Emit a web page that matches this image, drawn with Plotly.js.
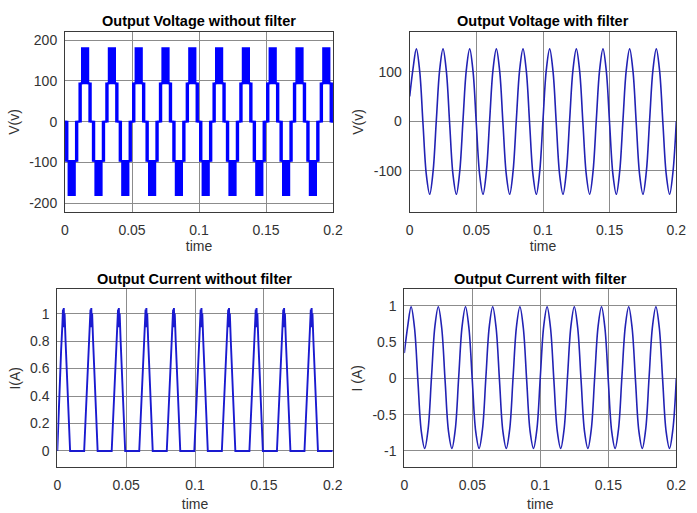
<!DOCTYPE html>
<html><head><meta charset="utf-8">
<script src="https://cdn.plot.ly/plotly-3.0.1.min.js"></script>
<style>html,body{margin:0;padding:0;background:#fff}#chart{width:697px;height:513px}</style>
</head><body><div id="chart"></div>
<script>
// ---- Output voltage without filter: switching bands (segment start times, upper / lower envelope) ----
const vUnfTime = [0,
 0.0007,0.0019,0.0026,0.0074,0.0081,0.0093,0.0107,0.0119,0.0126,0.0174,0.0181,0.0193,
 0.0207,0.0219,0.0226,0.0274,0.0281,0.0293,0.0307,0.0319,0.0326,0.0374,0.0381,0.0393,
 0.0407,0.0419,0.0426,0.0474,0.0481,0.0493,0.0507,0.0519,0.0526,0.0574,0.0581,0.0593,
 0.0607,0.0619,0.0626,0.0674,0.0681,0.0693,0.0707,0.0719,0.0726,0.0774,0.0781,0.0793,
 0.0807,0.0819,0.0826,0.0874,0.0881,0.0893,0.0907,0.0919,0.0926,0.0974,0.0981,0.0993,
 0.1007,0.1019,0.1026,0.1074,0.1081,0.1093,0.1107,0.1119,0.1126,0.1174,0.1181,0.1193,
 0.1207,0.1219,0.1226,0.1274,0.1281,0.1293,0.1307,0.1319,0.1326,0.1374,0.1381,0.1393,
 0.1407,0.1419,0.1426,0.1474,0.1481,0.1493,0.1507,0.1519,0.1526,0.1574,0.1581,0.1593,
 0.1607,0.1619,0.1626,0.1674,0.1681,0.1693,0.1707,0.1719,0.1726,0.1774,0.1781,0.1793,
 0.1807,0.1819,0.1826,0.1874,0.1881,0.1893,0.1907,0.1919,0.1926,0.1974,0.1981,0.1993,
 0.2];
const vUnfUpper = [0,
 0,-96,-96,-96,0,0,94,94,180,94,94,0,
 0,-96,-96,-96,0,0,94,94,180,94,94,0,
 0,-96,-96,-96,0,0,94,94,180,94,94,0,
 0,-96,-96,-96,0,0,94,94,180,94,94,0,
 0,-96,-96,-96,0,0,94,94,180,94,94,0,
 0,-96,-96,-96,0,0,94,94,180,94,94,0,
 0,-96,-96,-96,0,0,94,94,180,94,94,0,
 0,-96,-96,-96,0,0,94,94,180,94,94,0,
 0,-96,-96,-96,0,0,94,94,180,94,94,0,
 0,-96,-96,-96,0,0,94,94,180,94,94,0,
 0];
const vUnfLower = [0,
 -96,-96,-180,-96,-96,0,0,94,94,94,0,0,
 -96,-96,-180,-96,-96,0,0,94,94,94,0,0,
 -96,-96,-180,-96,-96,0,0,94,94,94,0,0,
 -96,-96,-180,-96,-96,0,0,94,94,94,0,0,
 -96,-96,-180,-96,-96,0,0,94,94,94,0,0,
 -96,-96,-180,-96,-96,0,0,94,94,94,0,0,
 -96,-96,-180,-96,-96,0,0,94,94,94,0,0,
 -96,-96,-180,-96,-96,0,0,94,94,94,0,0,
 -96,-96,-180,-96,-96,0,0,94,94,94,0,0,
 -96,-96,-180,-96,-96,0,0,94,94,94,0,0,
 0];

// ---- Filtered voltage and current (sampled every 2.5 ms) ----
const tSine = [0,0.0025,0.005,0.0075,0.01,0.0125,0.015,0.0175,
 0.02,0.0225,0.025,0.0275,0.03,0.0325,0.035,0.0375,
 0.04,0.0425,0.045,0.0475,0.05,0.0525,0.055,0.0575,
 0.06,0.0625,0.065,0.0675,0.07,0.0725,0.075,0.0775,
 0.08,0.0825,0.085,0.0875,0.09,0.0925,0.095,0.0975,
 0.1,0.1025,0.105,0.1075,0.11,0.1125,0.115,0.1175,
 0.12,0.1225,0.125,0.1275,0.13,0.1325,0.135,0.1375,
 0.14,0.1425,0.145,0.1475,0.15,0.1525,0.155,0.1575,
 0.16,0.1625,0.165,0.1675,0.17,0.1725,0.175,0.1775,
 0.18,0.1825,0.185,0.1875,0.19,0.1925,0.195,0.1975,
 0.2];
const vFilt = [50,106,146,101,-6,-108,-147,-102,
 3,104,146,101,-6,-108,-147,-102,
 3,104,146,101,-6,-108,-147,-102,
 3,104,146,101,-6,-108,-147,-102,
 3,104,146,101,-6,-108,-147,-102,
 3,104,146,101,-6,-108,-147,-102,
 3,104,146,101,-6,-108,-147,-102,
 3,104,146,101,-6,-108,-147,-102,
 3,104,146,101,-6,-108,-147,-102,
 3,104,146,101,-6,-108,-147,-102,
 0];
const iFilt = [0.35,0.72,0.99,0.70,-0.03,-0.73,-0.965,-0.70,
 0.02,0.72,0.99,0.70,-0.03,-0.73,-0.965,-0.70,
 0.02,0.72,0.99,0.70,-0.03,-0.73,-0.965,-0.70,
 0.02,0.72,0.99,0.70,-0.03,-0.73,-0.965,-0.70,
 0.02,0.72,0.99,0.70,-0.03,-0.73,-0.965,-0.70,
 0.02,0.72,0.99,0.70,-0.03,-0.73,-0.965,-0.70,
 0.02,0.72,0.99,0.70,-0.03,-0.73,-0.965,-0.70,
 0.02,0.72,0.99,0.70,-0.03,-0.73,-0.965,-0.70,
 0.02,0.72,0.99,0.70,-0.03,-0.73,-0.965,-0.70,
 0.02,0.72,0.99,0.70,-0.03,-0.73,-0.965,-0.70,
 0.0];

// ---- Output current without filter ----
const tIunf = [0,0.0012,0.0028,0.0037,0.0041,0.0044,0.0047,0.0050,0.0053,0.0060,0.0076,0.0093,
 0.0195,0.0212,0.0228,0.0237,0.0241,0.0244,0.0247,0.0250,0.0253,0.0260,0.0276,0.0293,
 0.0395,0.0412,0.0428,0.0437,0.0441,0.0444,0.0447,0.0450,0.0453,0.0460,0.0476,0.0493,
 0.0595,0.0612,0.0628,0.0637,0.0641,0.0644,0.0647,0.0650,0.0653,0.0660,0.0676,0.0693,
 0.0795,0.0812,0.0828,0.0837,0.0841,0.0844,0.0847,0.0850,0.0853,0.0860,0.0876,0.0893,
 0.0995,0.1012,0.1028,0.1037,0.1041,0.1044,0.1047,0.1050,0.1053,0.1060,0.1076,0.1093,
 0.1195,0.1212,0.1228,0.1237,0.1241,0.1244,0.1247,0.1250,0.1253,0.1260,0.1276,0.1293,
 0.1395,0.1412,0.1428,0.1437,0.1441,0.1444,0.1447,0.1450,0.1453,0.1460,0.1476,0.1493,
 0.1595,0.1612,0.1628,0.1637,0.1641,0.1644,0.1647,0.1650,0.1653,0.1660,0.1676,0.1693,
 0.1795,0.1812,0.1828,0.1837,0.1841,0.1844,0.1847,0.1850,0.1853,0.1860,0.1876,0.1893,
 0.2];
const iUnf = [0,0.38,0.74,0.92,1.03,0.90,1.04,0.92,1.00,0.80,0.42,0,
 0,0.38,0.74,0.92,1.03,0.90,1.04,0.92,1.00,0.80,0.42,0,
 0,0.38,0.74,0.92,1.03,0.90,1.04,0.92,1.00,0.80,0.42,0,
 0,0.38,0.74,0.92,1.03,0.90,1.04,0.92,1.00,0.80,0.42,0,
 0,0.38,0.74,0.92,1.03,0.90,1.04,0.92,1.00,0.80,0.42,0,
 0,0.38,0.74,0.92,1.03,0.90,1.04,0.92,1.00,0.80,0.42,0,
 0,0.38,0.74,0.92,1.03,0.90,1.04,0.92,1.00,0.80,0.42,0,
 0,0.38,0.74,0.92,1.03,0.90,1.04,0.92,1.00,0.80,0.42,0,
 0,0.38,0.74,0.92,1.03,0.90,1.04,0.92,1.00,0.80,0.42,0,
 0,0.38,0.74,0.92,1.03,0.90,1.04,0.92,1.00,0.80,0.42,0,
 0];

// ---- Ticks and text ----
const xTickVals = [0,0.05,0.1,0.15,0.2];
const xTickText = ['0','0.05','0.1','0.15','0.2'];
const vUnfTickVals = [-200,-100,0,100,200];
const vUnfTickText = ['-200','-100','0','100','200'];
const vFiltTickVals = [-100,0,100];
const vFiltTickText = ['-100','0','100'];
const iUnfTickVals = [0,0.2,0.4,0.6,0.8,1];
const iUnfTickText = ['0','0.2','0.4','0.6','0.8','1'];
const iFiltTickVals = [-1,-0.5,0,0.5,1];
const iFiltTickText = ['-1','-0.5','0','0.5','1'];
const panelTitles = ['Output Voltage without filter','Output Voltage with filter',
                     'Output Current without filter','Output Current with filter'];
const yTitles = ['V(v)','V(v)','I(A)','I (A)'];
const xTitle = 'time';

const FONT = 'Liberation Sans, Arial, Helvetica, sans-serif';
const W = 697, H = 513;
const px = (a,b)=>[a/W, b/W];
const py = (top,bottom)=>[1-bottom/H, 1-top/H];

const dom = [
  {x: px(65,333),   y: py(31.7,212.3)},
  {x: px(409.7,676.3), y: py(31.7,212.3)},
  {x: px(57.3,332.7), y: py(289.3,467.3)},
  {x: px(404.3,676.3), y: py(289.3,467.3)}
];
const yRanges = [[-222,220.4],[-183.2,180.5],[-0.119,1.177],[-1.225,1.23]];
const yTicks = [[vUnfTickVals,vUnfTickText],[vFiltTickVals,vFiltTickText],
                [iUnfTickVals,iUnfTickText],[iFiltTickVals,iFiltTickText]];
const xTitleStandoff = [2,2,7,7];

function xa(i){
  return {domain: dom[i].x, anchor: 'y'+(i?i+1:''), range:[0,0.2],
    tickvals:xTickVals, ticktext:xTickText, showline:true, mirror:true,
    linecolor:'#3a3a3a', linewidth:1, showgrid:true, gridcolor:'#8c8c8c', gridwidth:1,
    zeroline:false, ticks:'', ticklabelstandoff:5, tickfont:{family:FONT,size:14,color:'#333'},
    title:{text:xTitle, font:{family:FONT,size:14,color:'#333'}, standoff:xTitleStandoff[i]}, fixedrange:true};
}
function ya(i){
  return {domain: dom[i].y, anchor: 'x'+(i?i+1:''), range:yRanges[i],
    tickvals:yTicks[i][0], ticktext:yTicks[i][1], showline:true, mirror:true,
    linecolor:'#3a3a3a', linewidth:1, showgrid:true, gridcolor:'#8c8c8c', gridwidth:1,
    zeroline:false, ticks:'', ticklabelstandoff:4, tickfont:{family:FONT,size:14,color:'#333'},
    title:{text:yTitles[i], font:{family:FONT,size:14,color:'#333'}, standoff:6}, fixedrange:true};
}

const traces = [
  {x:vUnfTime, y:vUnfLower, xaxis:'x', yaxis:'y', mode:'lines',
   line:{shape:'hv', color:'#0000ff', width:1.8}, hoverinfo:'skip', showlegend:false},
  {x:vUnfTime, y:vUnfUpper, xaxis:'x', yaxis:'y', mode:'lines', fill:'tonexty',
   fillcolor:'#0000ff', line:{shape:'hv', color:'#0000ff', width:1.8}, hoverinfo:'skip', showlegend:false},
  {x:tSine, y:vFilt, xaxis:'x2', yaxis:'y2', mode:'lines',
   line:{shape:'spline', smoothing:1, color:'#2222b4', width:1.6}, showlegend:false},
  {x:tIunf, y:iUnf, xaxis:'x3', yaxis:'y3', mode:'lines',
   line:{color:'#1a1ad0', width:1.9}, showlegend:false},
  {x:tSine, y:iFilt, xaxis:'x4', yaxis:'y4', mode:'lines',
   line:{shape:'spline', smoothing:1, color:'#2222b4', width:1.6}, showlegend:false}
];

const annotations = panelTitles.map((t,i)=>({
  text:'<b>'+t+'</b>', xref:'paper', yref:'paper',
  x:(dom[i].x[0]+dom[i].x[1])/2, y: i<2 ? 1-21/H : 1-278.5/H,
  xanchor:'center', yanchor:'middle', showarrow:false,
  font:{family:FONT, size:14.5, color:'#000'}
}));

const layout = {
  width:W, height:H, margin:{l:0,r:0,t:0,b:0},
  paper_bgcolor:'#fff', plot_bgcolor:'#fff', showlegend:false,
  xaxis:xa(0), yaxis:ya(0), xaxis2:xa(1), yaxis2:ya(1),
  xaxis3:xa(2), yaxis3:ya(2), xaxis4:xa(3), yaxis4:ya(3),
  annotations: annotations
};
Plotly.newPlot('chart', traces, layout, {displayModeBar:false, staticPlot:true});
</script></body></html>
